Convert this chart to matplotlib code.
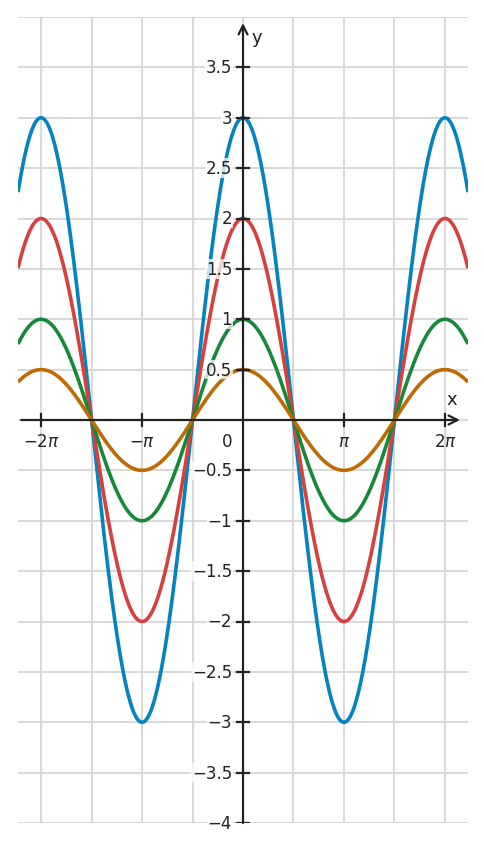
import numpy as np
import matplotlib
matplotlib.use("Agg")
import matplotlib.pyplot as plt

# amplitudes of A*cos(x), drawn back to front
amplitudes = [3, 2, 1, 0.5]
colors = ["#0384c0", "#d7403c", "#17883a", "#bf6a02"]

x_ticks = [-2 * np.pi, -np.pi, np.pi, 2 * np.pi]
x_labels = [r"$-2\pi$", r"$-\pi$", r"$\pi$", r"$2\pi$"]
y_ticks = [-4, -3.5, -3, -2.5, -2, -1.5, -1, -0.5, 0.5, 1, 1.5, 2, 2.5, 3, 3.5]
y_labels = ["\u22124", "\u22123.5", "\u22123", "\u22122.5", "\u22122", "\u22121.5",
            "\u22121", "\u22120.5", "0.5", "1", "1.5", "2", "2.5", "3", "3.5"]

xmin, xmax = -7, 7
ymin, ymax = -4, 4

fig = plt.figure(figsize=(4.85, 8.53), dpi=100)
ax = fig.add_axes([18 / 485, 29 / 853, 450 / 485, 806 / 853])

x = np.linspace(xmin, xmax, 1000)
for a, c in zip(amplitudes, colors):
    ax.plot(x, a * np.cos(x), color=c, lw=2.6, zorder=3, solid_capstyle="butt")

ax.set_xlim(xmin, xmax)
ax.set_ylim(ymin, ymax)

# grid
for gx in np.arange(-4, 5) * np.pi / 2:
    ax.axvline(gx, color="#d6d6d6", lw=1.3, zorder=1)
for gy in np.arange(-4, 4.5, 0.5):
    ax.axhline(gy, color="#d6d6d6", lw=1.3, zorder=1)

for s in ax.spines.values():
    s.set_visible(False)
ax.set_xticks([])
ax.set_yticks([])

axc = "#222222"
# axes with arrows
ax.annotate("", xy=(6.75, 0), xytext=(-6.9, 0),
            arrowprops=dict(arrowstyle="->", color=axc, lw=1.6,
                            mutation_scale=16, shrinkA=0, shrinkB=0), zorder=5)
ax.annotate("", xy=(0, 3.94), xytext=(0, -4.0),
            arrowprops=dict(arrowstyle="->", color=axc, lw=1.6,
                            mutation_scale=16, shrinkA=0, shrinkB=0), zorder=5)

# ticks
for t, lab in zip(x_ticks, x_labels):
    ax.plot([t, t], [-0.055, 0.055], color=axc, lw=1.6, zorder=5)
    ax.text(t, -0.12, lab, ha="center", va="top", fontsize=12, color=axc, zorder=6)
for t, lab in zip(y_ticks, y_labels):
    ax.plot([-0.18, 0.18], [t, t], color=axc, lw=1.6, zorder=5)
    ax.text(-0.34, t, lab, ha="right", va="center", fontsize=12, color=axc, zorder=6,
            bbox=dict(boxstyle="square,pad=0.05", fc="white", ec="none", alpha=0.75))

ax.text(-0.34, -0.12, "0", ha="right", va="top", fontsize=12, color=axc, zorder=6)
ax.text(6.5, 0.12, "x", ha="center", va="bottom", fontsize=13, color=axc, zorder=6)
ax.text(0.25, 3.80, "y", ha="left", va="center", fontsize=13, color=axc, zorder=6)

fig.savefig("out.png", dpi=100)
